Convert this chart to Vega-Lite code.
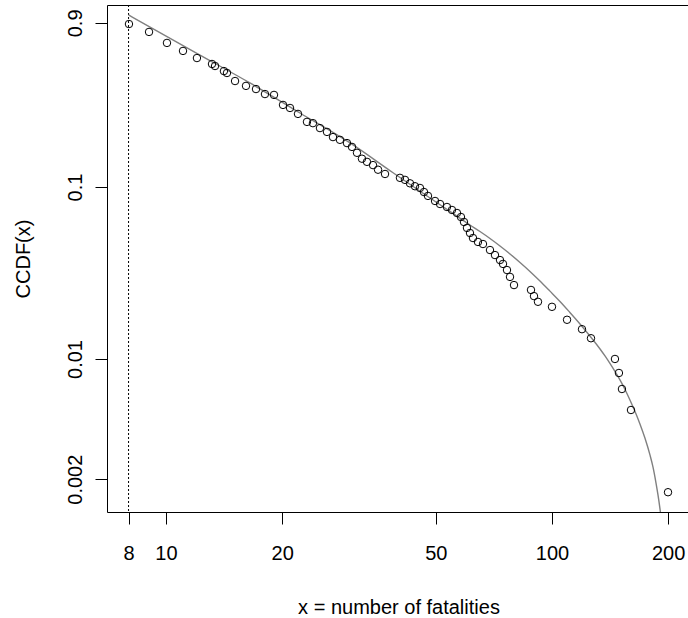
{
  "$schema": "https://vega.github.io/schema/vega-lite/v6.json",
  "width": 583,
  "height": 507,
  "autosize": "none",
  "padding": {"left": 107, "top": 5, "right": 0, "bottom": 106},
  "background": "white",
  "config": {
    "view": {"stroke": "black", "strokeWidth": 1},
    "axis": {
      "grid": false,
      "domain": false,
      "tickColor": "black",
      "tickSize": 12,
      "tickWidth": 1,
      "labelFont": "Liberation Sans",
      "labelFontSize": 20,
      "labelColor": "black",
      "labelFlush": false,
      "labelOverlap": false,
      "titleFont": "Liberation Sans",
      "titleFontSize": 20,
      "titleFontWeight": "normal",
      "titleColor": "black"
    }
  },
  "datasets": {
    "points": [
      {"x": 8.02, "y": 0.886}, {"x": 9.04, "y": 0.797}, {"x": 10.06, "y": 0.688}, {"x": 11.07, "y": 0.618},
      {"x": 12.03, "y": 0.562}, {"x": 13.16, "y": 0.519}, {"x": 13.40, "y": 0.505}, {"x": 14.13, "y": 0.472},
      {"x": 14.39, "y": 0.460}, {"x": 15.10, "y": 0.413}, {"x": 16.12, "y": 0.387}, {"x": 17.11, "y": 0.371},
      {"x": 18.05, "y": 0.347}, {"x": 19.05, "y": 0.343}, {"x": 20.10, "y": 0.300}, {"x": 20.96, "y": 0.288},
      {"x": 21.98, "y": 0.266}, {"x": 23.19, "y": 0.239}, {"x": 24.03, "y": 0.235}, {"x": 25.06, "y": 0.220},
      {"x": 26.13, "y": 0.209}, {"x": 27.08, "y": 0.195}, {"x": 28.23, "y": 0.188}, {"x": 29.44, "y": 0.180},
      {"x": 30.33, "y": 0.171}, {"x": 31.25, "y": 0.158}, {"x": 32.19, "y": 0.146}, {"x": 33.17, "y": 0.140},
      {"x": 34.39, "y": 0.134}, {"x": 35.43, "y": 0.126}, {"x": 36.94, "y": 0.119}, {"x": 40.38, "y": 0.113},
      {"x": 41.61, "y": 0.110}, {"x": 42.87, "y": 0.105}, {"x": 44.17, "y": 0.101}, {"x": 45.50, "y": 0.0987},
      {"x": 46.60, "y": 0.0935}, {"x": 47.73, "y": 0.0887}, {"x": 49.78, "y": 0.0829}, {"x": 51.29, "y": 0.0796},
      {"x": 53.45, "y": 0.0765}, {"x": 55.07, "y": 0.0735}, {"x": 56.74, "y": 0.0706}, {"x": 58.11, "y": 0.0669},
      {"x": 59.16, "y": 0.0626}, {"x": 60.23, "y": 0.0578}, {"x": 61.32, "y": 0.0540}, {"x": 62.42, "y": 0.0505},
      {"x": 64.31, "y": 0.0479}, {"x": 66.26, "y": 0.0466}, {"x": 69.09, "y": 0.0430}, {"x": 71.18, "y": 0.0402},
      {"x": 73.34, "y": 0.0376}, {"x": 74.66, "y": 0.0357}, {"x": 76.46, "y": 0.0329}, {"x": 77.85, "y": 0.0300},
      {"x": 79.73, "y": 0.0269}, {"x": 88.23, "y": 0.0252}, {"x": 89.82, "y": 0.0232}, {"x": 91.99, "y": 0.0215},
      {"x": 100.0, "y": 0.0201}, {"x": 109.4, "y": 0.0169}, {"x": 119.6, "y": 0.0149}, {"x": 126.2, "y": 0.0132},
      {"x": 145.6, "y": 0.0100}, {"x": 149.1, "y": 0.00829}, {"x": 151.8, "y": 0.00669}, {"x": 160.2, "y": 0.00505},
      {"x": 199.8, "y": 0.00168}
    ],
    "fit": [
      {"x": 8.0, "y": 1.0}, {"x": 12.25, "y": 0.585}, {"x": 16.50, "y": 0.4025}, {"x": 22.24, "y": 0.2693},
      {"x": 29.98, "y": 0.1803}, {"x": 38.50, "y": 0.1222}, {"x": 48.31, "y": 0.0863}, {"x": 54.42, "y": 0.0721},
      {"x": 61.32, "y": 0.0601}, {"x": 65.09, "y": 0.0551}, {"x": 69.09, "y": 0.0502}, {"x": 73.34, "y": 0.0454},
      {"x": 77.85, "y": 0.0408}, {"x": 82.64, "y": 0.0364}, {"x": 87.70, "y": 0.0323}, {"x": 93.09, "y": 0.0284},
      {"x": 98.81, "y": 0.0248}, {"x": 104.9, "y": 0.0216}, {"x": 111.3, "y": 0.01864}, {"x": 118.2, "y": 0.01598},
      {"x": 125.4, "y": 0.0136}, {"x": 133.2, "y": 0.01143}, {"x": 137.2, "y": 0.01041}, {"x": 141.3, "y": 0.00942},
      {"x": 145.6, "y": 0.00846}, {"x": 150.0, "y": 0.00755}, {"x": 154.6, "y": 0.00665}, {"x": 159.2, "y": 0.00578},
      {"x": 164.1, "y": 0.00495}, {"x": 169.0, "y": 0.00419}, {"x": 174.1, "y": 0.00347}, {"x": 179.4, "y": 0.00277},
      {"x": 182.7, "y": 0.00235}, {"x": 186.0, "y": 0.0019}, {"x": 188.2, "y": 0.00162}, {"x": 190.5, "y": 0.00134},
      {"x": 191.6, "y": 0.00121}, {"x": 192.8, "y": 0.00107}
    ],
    "xmin": [{"x": 8}]
  },
  "layer": [
    {
      "data": {"name": "xmin"},
      "mark": {"type": "rule", "color": "black", "strokeWidth": 1, "strokeDash": [2, 2]},
      "encoding": {
        "x": {"field": "x", "type": "quantitative",
          "scale": {"type": "log", "domain": [7.035, 227.8], "nice": false, "zero": false},
          "axis": {"values": [8, 10, 20, 50, 100, 200], "format": "~g", "title": "x = number of fatalities",
            "labelPadding": 19, "titleBaseline": "alphabetic", "titleY": 101}}
      }
    },
    {
      "data": {"name": "fit"},
      "mark": {"type": "line", "color": "#808080", "strokeWidth": 1.4, "clip": true, "interpolate": "monotone"},
      "encoding": {
        "x": {"field": "x", "type": "quantitative",
          "scale": {"type": "log", "domain": [7.035, 227.8], "nice": false, "zero": false},
          "axis": {"values": [8, 10, 20, 50, 100, 200], "format": "~g", "title": "x = number of fatalities",
            "labelPadding": 19, "titleBaseline": "alphabetic", "titleY": 101}},
        "y": {"field": "y", "type": "quantitative",
          "scale": {"type": "log", "domain": [0.001289, 1.143], "nice": false, "zero": false},
          "axis": {"values": [0.9, 0.1, 0.01, 0.002], "format": "~g", "title": "CCDF(x)",
            "labelAngle": -90, "labelAlign": "center", "labelBaseline": "alphabetic", "labelPadding": 14,
            "titleAngle": -90, "titleBaseline": "alphabetic", "titleX": -78}}
      }
    },
    {
      "data": {"name": "points"},
      "mark": {"type": "point", "shape": "circle", "filled": false, "stroke": "black", "strokeWidth": 1, "size": 56, "opacity": 1},
      "encoding": {
        "x": {"field": "x", "type": "quantitative",
          "scale": {"type": "log", "domain": [7.035, 227.8], "nice": false, "zero": false},
          "axis": {"values": [8, 10, 20, 50, 100, 200], "format": "~g", "title": "x = number of fatalities",
            "labelPadding": 19, "titleBaseline": "alphabetic", "titleY": 101}},
        "y": {"field": "y", "type": "quantitative",
          "scale": {"type": "log", "domain": [0.001289, 1.143], "nice": false, "zero": false},
          "axis": {"values": [0.9, 0.1, 0.01, 0.002], "format": "~g", "title": "CCDF(x)",
            "labelAngle": -90, "labelAlign": "center", "labelBaseline": "alphabetic", "labelPadding": 14,
            "titleAngle": -90, "titleBaseline": "alphabetic", "titleX": -78}}
      }
    }
  ]
}
